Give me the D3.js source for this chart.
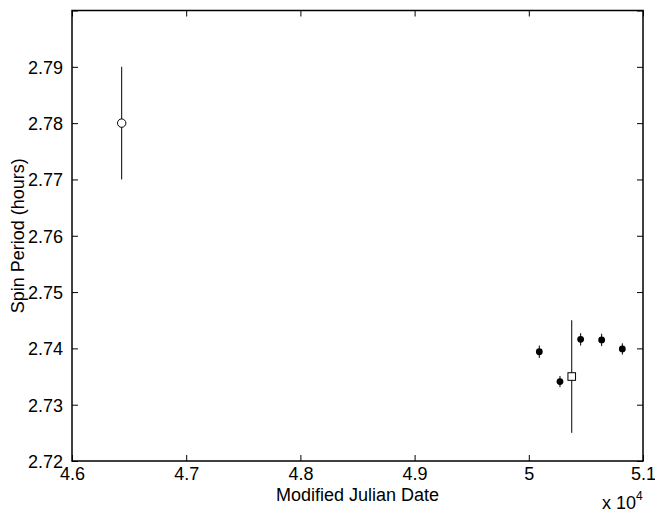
<!DOCTYPE html>
<html>
<head>
<meta charset="utf-8">
<script src="https://cdn.jsdelivr.net/npm/d3@7"></script>
<style>
  html, body { margin: 0; padding: 0; background: #fff; }
  svg text { font-family: "Liberation Sans", Arial, Helvetica, sans-serif; fill: #000; }
</style>
</head>
<body>
<svg id="chart" width="655" height="514"></svg>
<script>
// Spin period measurements (hours) against Modified Julian Date
const filledMjd    = [50092, 50273, 50454, 50638, 50819];
const filledPeriod = [2.7394, 2.7341, 2.7416, 2.7415, 2.7399];
const filledErr    = [0.0011, 0.0010, 0.0011, 0.0011, 0.0010];

const circleMjd    = [46435];
const circlePeriod = [2.780];
const circleErr    = [0.010];

const squareMjd    = [50376];
const squarePeriod = [2.735];
const squareErr    = [0.010];

const xTicks = [46000, 47000, 48000, 49000, 50000, 51000];
const xTickLabels = ["4.6", "4.7", "4.8", "4.9", "5", "5.1"];
const yTicks = [2.72, 2.73, 2.74, 2.75, 2.76, 2.77, 2.78, 2.79, 2.80];
const yTickLabels = ["2.72", "2.73", "2.74", "2.75", "2.76", "2.77", "2.78", "2.79", ""];

const svg = d3.select("#chart");
const plotL = 72, plotR = 643, plotT = 10.5, plotB = 461;

const x = d3.scaleLinear().domain([46000, 51000]).range([plotL, plotR]);
const y = d3.scaleLinear().domain([2.72, 2.80]).range([plotB, plotT]);

const tickLen = 6;
const fontSize = 18;

// Axes: labelled bottom/left, mirrored inward ticks on top/right
const xAxisB = d3.axisBottom(x).tickValues(xTicks)
  .tickFormat((d, i) => xTickLabels[i]).tickSizeInner(-tickLen).tickSizeOuter(0).tickPadding(6);
const xAxisT = d3.axisTop(x).tickValues(xTicks).tickFormat("").tickSizeInner(-tickLen).tickSizeOuter(0);
const yAxisL = d3.axisLeft(y).tickValues(yTicks)
  .tickFormat((d, i) => yTickLabels[i]).tickSizeInner(-tickLen).tickSizeOuter(0).tickPadding(9);
const yAxisR = d3.axisRight(y).tickValues(yTicks).tickFormat("").tickSizeInner(-tickLen).tickSizeOuter(0);

function styleAxis(g) {
  g.select(".domain").remove();
  g.selectAll(".tick line").attr("stroke", "#000").attr("stroke-width", 1);
  g.selectAll(".tick text").attr("font-size", fontSize).attr("font-family", "Liberation Sans, Arial, sans-serif");
}

svg.append("g").attr("transform", `translate(0,${plotB})`).call(xAxisB).call(styleAxis)
  .selectAll(".tick text").attr("dy", "0.72em");
svg.append("g").attr("transform", `translate(0,${plotT})`).call(xAxisT).call(styleAxis);
svg.append("g").attr("transform", `translate(${plotL},0)`).call(yAxisL).call(styleAxis)
  .selectAll(".tick text").attr("dy", "0.36em");
svg.append("g").attr("transform", `translate(${plotR},0)`).call(yAxisR).call(styleAxis);

// Plot box
svg.append("rect")
  .attr("x", plotL).attr("y", plotT)
  .attr("width", plotR - plotL).attr("height", plotB - plotT)
  .attr("fill", "none").attr("stroke", "#000").attr("stroke-width", 1.5);

// Axis titles
svg.append("text")
  .attr("x", (plotL + plotR) / 2).attr("y", 501)
  .attr("text-anchor", "middle").attr("font-size", fontSize)
  .text("Modified Julian Date");

svg.append("text")
  .attr("transform", `translate(24,${(plotT + plotB) / 2}) rotate(-90)`)
  .attr("text-anchor", "middle").attr("font-size", fontSize)
  .text("Spin Period (hours)");

const expo = svg.append("text")
  .attr("x", 602).attr("y", 509)
  .attr("font-size", 18);
expo.append("tspan").text("x 10");
expo.append("tspan").attr("dy", -9).attr("font-size", 12).text("4");

// Error bars
function errorBars(mjd, per, err) {
  svg.append("g").selectAll("line").data(mjd).join("line")
    .attr("x1", d => x(d)).attr("x2", d => x(d))
    .attr("y1", (d, i) => y(per[i] - err[i]))
    .attr("y2", (d, i) => y(per[i] + err[i]))
    .attr("stroke", "#000").attr("stroke-width", 1);
}
errorBars(circleMjd, circlePeriod, circleErr);
errorBars(squareMjd, squarePeriod, squareErr);
errorBars(filledMjd, filledPeriod, filledErr);

// Markers
svg.append("g").selectAll("circle").data(circleMjd).join("circle")
  .attr("cx", d => x(d)).attr("cy", (d, i) => y(circlePeriod[i]))
  .attr("r", 4.2).attr("fill", "#fff").attr("stroke", "#000").attr("stroke-width", 1);

svg.append("g").selectAll("rect").data(squareMjd).join("rect")
  .attr("x", d => x(d) - 3.8).attr("y", (d, i) => y(squarePeriod[i]) - 3.8)
  .attr("width", 7.6).attr("height", 7.6)
  .attr("fill", "#fff").attr("stroke", "#000").attr("stroke-width", 1);

svg.append("g").selectAll("circle").data(filledMjd).join("circle")
  .attr("cx", d => x(d)).attr("cy", (d, i) => y(filledPeriod[i]))
  .attr("r", 3.4).attr("fill", "#000");
</script>
</body>
</html>
